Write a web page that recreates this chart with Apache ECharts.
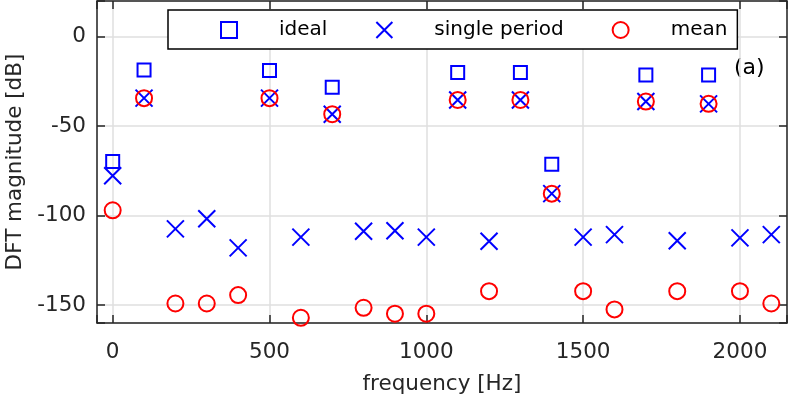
<!DOCTYPE html>
<html><head><meta charset="utf-8">
<script src="https://cdn.jsdelivr.net/npm/echarts@6/dist/echarts.min.js"></script>
<style>html,body{margin:0;padding:0;background:#fff}#c{width:789px;height:395px}</style>
</head><body><div id="c"></div>
<script>
const freqs = [0,100,200,300,400,500,600,700,800,900,1000,1100,1200,1300,1400,1500,1600,1700,1800,1900,2000,2100];
const idealDB = [-69.7,-18.6,null,null,null,-18.8,null,-28.2,null,null,null,-20,null,-20,-71.2,null,null,-21.4,null,-21.4,null,null];
const singleDB = [-77.7,-34.3,-107.4,-101.7,-118,-34.3,-112,-43.3,-108.7,-108.4,-112,-35.3,-114.3,-35.3,-87.7,-112,-110.6,-36.2,-114,-37.5,-112.4,-110.6];
const meanDB = [-97,-34.3,-149.1,-149.1,-144.4,-34.3,-157.1,-43.3,-151.5,-154.8,-154.8,-35.3,-142.2,-35.3,-87.7,-142.2,-152.4,-36.2,-142.2,-37.5,-142.2,-149.1];
const seriesNames = ['ideal','single period','mean'];
const xTickLabels = [0,500,1000,1500,2000];
const yTickLabels = [-150,-100,-50,0];

const FONT = 'DejaVu Sans';
const AX = '#262626';
const crossPath = 'path://M0,0L16,16M16,0L0,16';
const squarePath = 'path://M0,0L16,0L16,16L0,16Z';
const pairs = arr => freqs.map((f,i)=>[f,arr[i]]).filter(d=>d[1]!==null);

const axisLine = {show:true,onZero:false,lineStyle:{color:AX,width:1.5}};
const axisTick = {show:true,inside:true,length:8,lineStyle:{color:AX,width:1.5}};
const grid = {show:true,lineStyle:{color:'#dfdfdf',width:1.5}};

const chart = echarts.init(document.getElementById('c'));
chart.setOption({
  animation:false,
  backgroundColor:'#fff',
  grid:{left:97,right:2,top:1,bottom:72,containLabel:false,outerBoundsMode:'none'},
  legend:{
    left:168, top:10, orient:'horizontal',
    padding:[10,10,9,52], itemGap:48, itemWidth:90, itemHeight:16,
    borderColor:'#000', borderWidth:1.5, backgroundColor:'#fff',
    textStyle:{fontFamily:FONT,fontSize:20,color:'#000'},
    data:[
      {name:seriesNames[0],icon:squarePath,itemStyle:{color:'transparent',borderColor:'#0000ff',borderWidth:2,opacity:1}},
      {name:seriesNames[1],icon:crossPath,itemStyle:{color:'transparent',borderColor:'#0000ff',borderWidth:2,opacity:1}},
      {name:seriesNames[2],icon:'circle',itemStyle:{color:'transparent',borderColor:'#ff0000',borderWidth:2,opacity:1}}
    ]
  },
  xAxis:[
    {type:'value',min:-50,max:2150,splitNumber:5,position:'bottom',
     axisLine,axisTick,splitLine:grid,
     axisLabel:{formatter:v=>xTickLabels.includes(v)?String(v):'',fontFamily:FONT,fontSize:21.5,color:AX,margin:18},
     name:'frequency [Hz]',nameLocation:'middle',nameGap:50,
     nameTextStyle:{fontFamily:FONT,fontSize:21.5,color:AX}},
    {type:'value',min:-50,max:2150,splitNumber:5,position:'top',
     axisLine,axisTick,splitLine:{show:false},axisLabel:{show:false}}
  ],
  yAxis:[
    {type:'value',min:-160,max:20,splitNumber:4,position:'left',
     axisLine,axisTick,splitLine:grid,
     axisLabel:{formatter:v=>yTickLabels.includes(v)?String(v):'',fontFamily:FONT,fontSize:21.5,color:AX,margin:11},
     name:'DFT magnitude [dB]',nameLocation:'middle',nameGap:62,
     nameTextStyle:{fontFamily:FONT,fontSize:21.5,color:AX}},
    {type:'value',min:-160,max:20,splitNumber:4,position:'right',
     axisLine,axisTick,splitLine:{show:false},axisLabel:{show:false}}
  ],
  graphic:[{type:'text',left:734,top:57,style:{text:'(a)',fontFamily:FONT,fontSize:22,fill:'#000'}}],
  series:[
    {name:seriesNames[0],type:'scatter',data:pairs(idealDB),symbol:'rect',symbolSize:13,
     itemStyle:{color:'transparent',borderColor:'#0000ff',borderWidth:2,opacity:1},z:3},
    {name:seriesNames[1],type:'scatter',data:pairs(singleDB),symbol:crossPath,symbolSize:17,
     itemStyle:{color:'transparent',borderColor:'#0000ff',borderWidth:2,opacity:1},z:4},
    {name:seriesNames[2],type:'scatter',data:pairs(meanDB),symbol:'circle',symbolSize:16,
     itemStyle:{color:'transparent',borderColor:'#ff0000',borderWidth:2,opacity:1},z:5}
  ]
});
</script></body></html>
